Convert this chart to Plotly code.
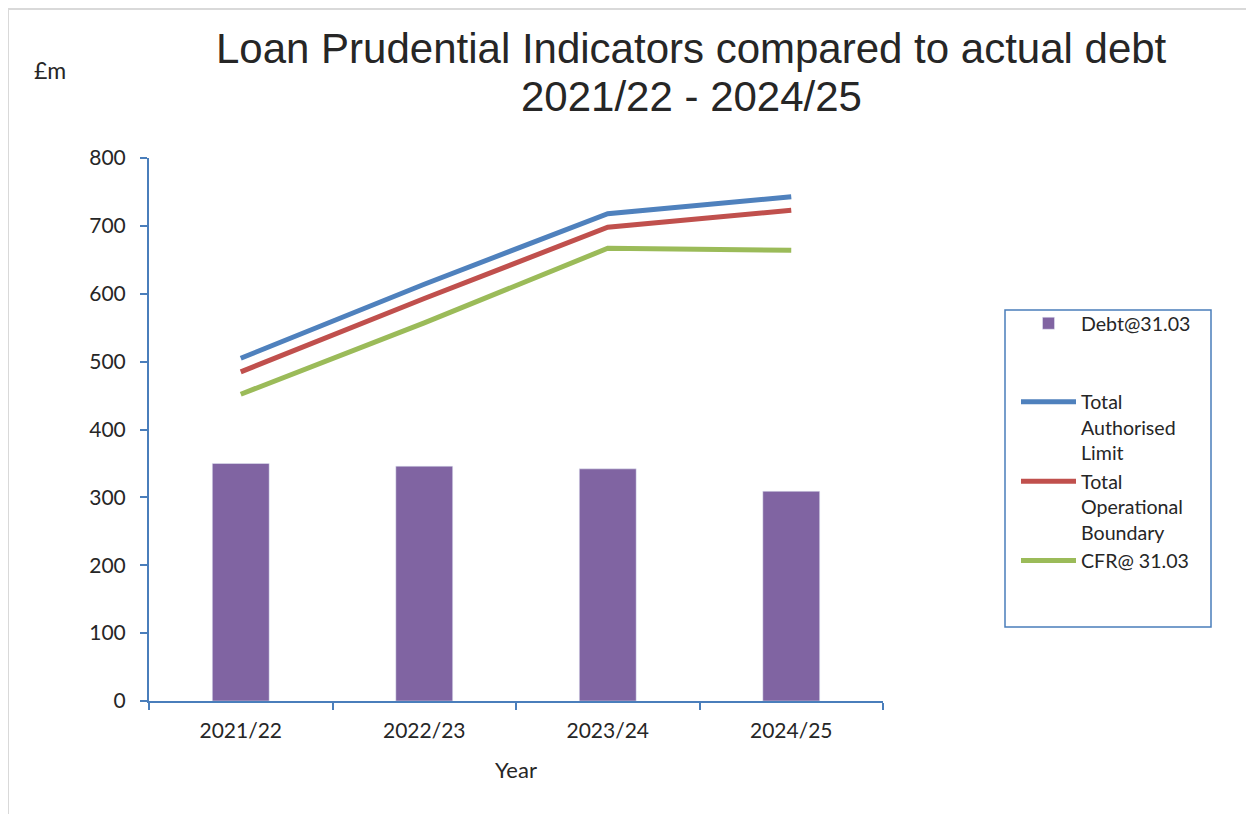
import plotly.graph_objects as go

years = ["2021/22", "2022/23", "2023/24", "2024/25"]
debt = [350, 346, 342, 309]
authorised = [505, 614, 718, 743]
operational = [485, 593, 698, 723]
cfr = [452, 557, 667, 664]

W, H = 1254, 814
OFF = 8  # page body margin
L, R, T, B = 149, 883, 158, 701

def px(x):
    return (x - L) / (R - L)

def py(y):
    return (B - y) / (B - T)

BODY = "Lato, 'Open Sans', sans-serif"
TXT = "#262626"
AX = "#4A7EBB"

fig = go.Figure()
fig.add_trace(go.Bar(x=years, y=debt, name="Debt@31.03", marker_color="#8064A2",
                     width=0.31, legendgroup="a"))
fig.add_trace(go.Scatter(x=years, y=authorised, name="Total<br>Authorised<br>Limit",
                         mode="lines", line=dict(color="#4F81BD", width=5), legendgroup="b"))
fig.add_trace(go.Scatter(x=years, y=operational, name="Total<br>Operational<br>Boundary",
                         mode="lines", line=dict(color="#C0504D", width=5), legendgroup="b"))
fig.add_trace(go.Scatter(x=years, y=cfr, name="CFR@ 31.03",
                         mode="lines", line=dict(color="#9BBB59", width=5), legendgroup="b"))

fig.update_layout(
    width=W, height=H,
    margin=dict(l=L - OFF, r=W - (R - OFF), t=T - OFF, b=H - (B - OFF)),
    paper_bgcolor="white", plot_bgcolor="white",
    font=dict(family=BODY, size=20, color=TXT),
    showlegend=True,
    legend=dict(x=px(1016), y=py(304), xanchor="left", yanchor="top",
                traceorder="grouped", tracegroupgap=50, valign="top",
                itemwidth=55, font=dict(size=19.6, family=BODY, color=TXT),
                bgcolor="rgba(0,0,0,0)"),
    xaxis=dict(type="category", showline=True, linecolor=AX, linewidth=2,
               ticks="outside", tickson="boundaries", ticklen=7, tickcolor=AX, tickwidth=2,
               showgrid=False, zeroline=False, ticklabelstandoff=10,
               title=dict(text="Year", font=dict(size=22, family=BODY, color=TXT), standoff=21),
               tickfont=dict(size=21)),
    yaxis=dict(range=[0, 800], dtick=100, showline=True, linecolor=AX, linewidth=2,
               ticks="outside", ticklen=7, tickcolor=AX, tickwidth=2, ticklabelstandoff=10,
               showgrid=False, zeroline=False, tickfont=dict(size=21)),
)

TITLE_FONT = dict(family="'Liberation Sans', Arial, sans-serif", size=42, color=TXT)
fig.add_annotation(text="Loan Prudential Indicators compared to actual debt",
                   xref="paper", yref="paper", x=px(691), y=py(48), xanchor="center", yanchor="middle",
                   showarrow=False, font=TITLE_FONT)
fig.add_annotation(text="2021/22 - 2024/25",
                   xref="paper", yref="paper", x=px(691), y=py(97), xanchor="center", yanchor="middle",
                   showarrow=False, font=TITLE_FONT)
# unit label
fig.add_annotation(text="£m", xref="paper", yref="paper", x=px(50), y=py(70),
                   xanchor="center", yanchor="middle", showarrow=False,
                   font=dict(family=BODY, size=23, color=TXT))
# legend box
fig.add_shape(type="rect", xref="paper", yref="paper", x0=px(1005), x1=px(1211), y0=py(627), y1=py(310),
              line=dict(color=AX, width=1.5), fillcolor="rgba(0,0,0,0)")
# outer chart border
fig.add_shape(type="rect", xref="paper", yref="paper", x0=px(OFF), x1=px(1300), y0=py(900), y1=py(OFF + 1),
              line=dict(color="#D9D9D9", width=2), fillcolor="rgba(0,0,0,0)")

fig.write_html("out.html")
